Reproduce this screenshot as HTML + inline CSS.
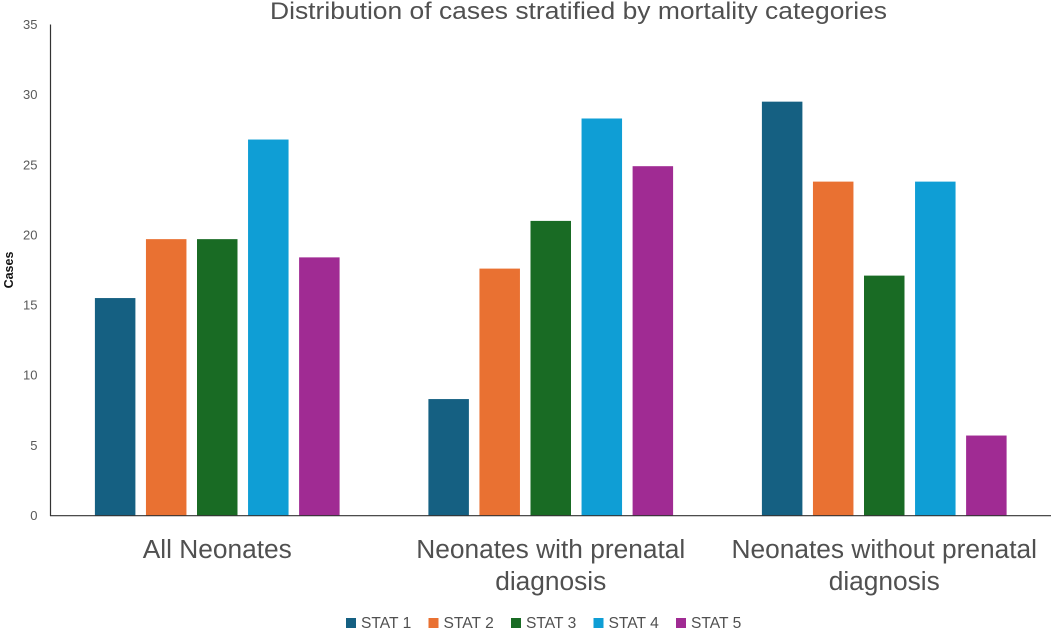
<!DOCTYPE html>
<html lang="en">
<head>
<meta charset="utf-8">
<title>Distribution of cases stratified by mortality categories</title>
<style>
html,body{margin:0;padding:0;background:#fff;}
svg{display:block;font-family:"Liberation Sans",sans-serif;}
</style>
</head>
<body>
<svg id="chart" width="1055" height="635" viewBox="0 0 1055 635" xmlns="http://www.w3.org/2000/svg">
  <rect x="0" y="0" width="1055" height="635" fill="#ffffff"/>
  <text x="578.5" y="19" text-anchor="middle" font-size="24.5" fill="#505050" textLength="617" lengthAdjust="spacingAndGlyphs">Distribution of cases stratified by mortality categories</text>
  <text transform="translate(9,270) rotate(-90)" y="4" text-anchor="middle" font-size="12.5" font-weight="bold" fill="#111111">Cases</text>
  <g id="y-ticks"></g>
  <g id="bars"></g>
  <line x1="50.5" y1="24.5" x2="50.5" y2="516" stroke="#333333" stroke-width="1.2"/>
  <line x1="50" y1="515.7" x2="1051" y2="515.7" stroke="#333333" stroke-width="1.2"/>
  <g id="x-labels"></g>
  <g id="legend"></g>
</svg>
<script>
const categories = [
  ["All Neonates"],
  ["Neonates with prenatal", "diagnosis"],
  ["Neonates without prenatal", "diagnosis"]
];
const seriesNames = ["STAT 1", "STAT 2", "STAT 3", "STAT 4", "STAT 5"];
const stat1 = [15.5, 8.3, 29.5];
const stat2 = [19.7, 17.6, 23.8];
const stat3 = [19.7, 21.0, 17.1];
const stat4 = [26.8, 28.3, 23.8];
const stat5 = [18.4, 24.9, 5.7];
const yTickLabels = [0, 5, 10, 15, 20, 25, 30, 35];
const seriesColors = ["#156082", "#E97132", "#196B24", "#0F9ED5", "#A02B93"];

const allSeries = [stat1, stat2, stat3, stat4, stat5];
const NS = "http://www.w3.org/2000/svg";
const plot = { left: 50.5, right: 1051, top: 24.5, bottom: 515.5, yMax: 35 };
const barWidth = 40.5;
const barStep = 51.05;

function yScale(v) {
  return plot.bottom - (v / plot.yMax) * (plot.bottom - plot.top);
}
function groupCenter(i) {
  const band = (plot.right - plot.left) / categories.length;
  return plot.left + band * (i + 0.5);
}
function barX(groupIndex, seriesIndex) {
  const n = allSeries.length;
  return groupCenter(groupIndex) + (seriesIndex - (n - 1) / 2) * barStep - barWidth / 2;
}
function make(tag, attrs, text) {
  const el = document.createElementNS(NS, tag);
  for (const k in attrs) el.setAttribute(k, attrs[k]);
  if (text !== undefined) el.textContent = text;
  return el;
}

const tickGroup = document.getElementById("y-ticks");
yTickLabels.forEach(function (t) {
  const el = make("text", { x: 37.5, y: yScale(t) + 4.5, "text-anchor": "end", "font-size": 13, fill: "#595959" }, String(t));
  
  
  tickGroup.appendChild(el);
});

const barGroup = document.getElementById("bars");
allSeries.forEach(function (values, s) {
  values.forEach(function (v, g) {
    const el = make("rect", {
      x: barX(g, s),
      y: yScale(v),
      width: barWidth,
      height: plot.bottom - yScale(v),
      fill: seriesColors[s]
    });
    
    
    barGroup.appendChild(el);
  });
});

const labelGroup = document.getElementById("x-labels");
categories.forEach(function (lines, i) {
  lines.forEach(function (line, j) {
    const el = make("text", {
      x: groupCenter(i),
      y: 558 + j * 32,
      "text-anchor": "middle",
      "font-size": 26.3,
      fill: "#505050"
    }, line);
    
    
    labelGroup.appendChild(el);
  });
});

const legendGroup = document.getElementById("legend");
seriesNames.forEach(function (name, i) {
  const lx = 346 + i * 82.5;
  const sw = make("rect", { x: lx, y: 618, width: 10, height: 10, fill: seriesColors[i] });
  
  
  legendGroup.appendChild(sw);
  const tx = make("text", { x: lx + 15, y: 628, "font-size": 15.6, fill: "#505050" }, name);
  
  
  legendGroup.appendChild(tx);
});
</script>
</body>
</html>
